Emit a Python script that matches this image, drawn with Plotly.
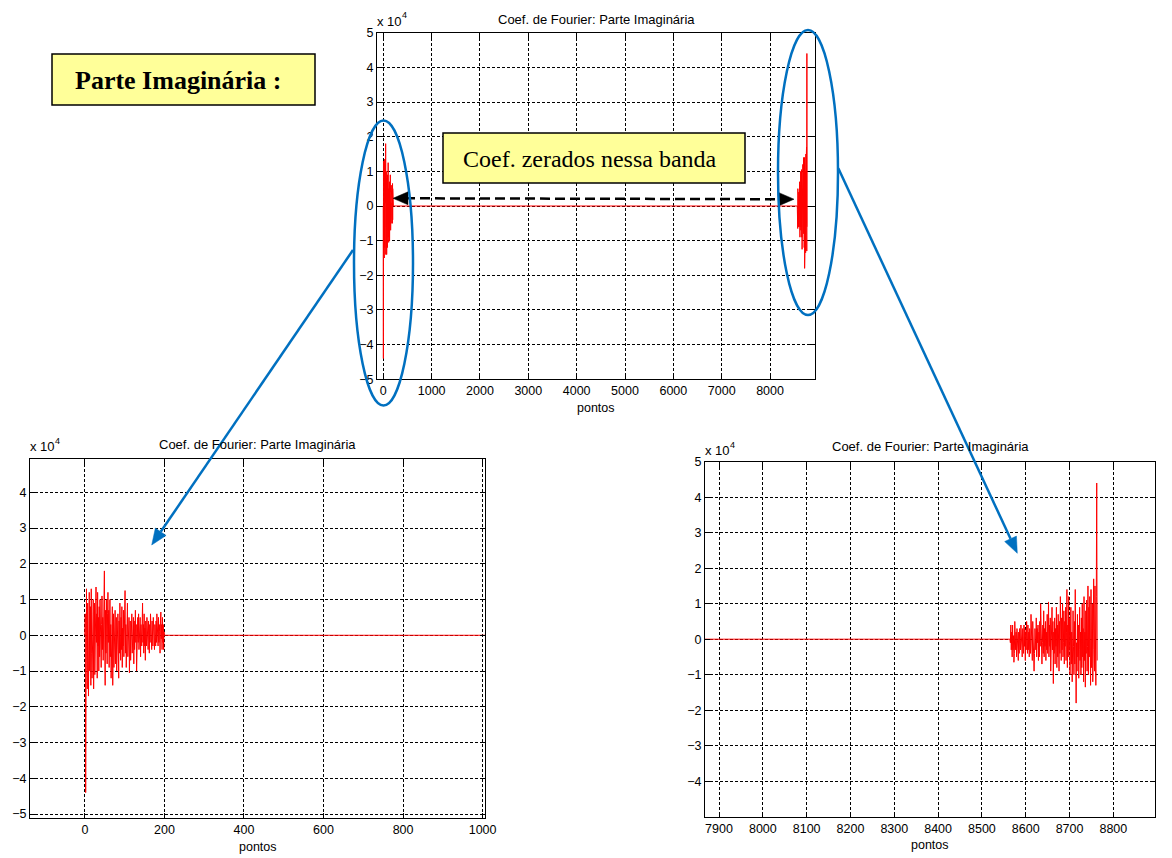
import plotly.graph_objects as go

# ---------------- data (imaginary part of Fourier coefficients, units of 1e4) ----------------
N_POINTS = 8764
# low-frequency band k = 0..200
imag_low = [
    0, 0.6, -4.4, -1.2, 1.3, -0.6, -1.5, 0.9, -0.4, -1.7,
    0.3, 1.2, -1.0, -0.3, 0.8, -1.4, 1.3, -0.5, -1.2, 0.5,
    -0.9, 1.0, -1.5, 0.2, 0.9, -1.1, 0.4, -0.8, 1.35, -0.2,
    0.6, -1.2, 1.2, -0.3, 0.5, -1.0, 0.8, -0.6, 1.0, -0.2,
    0.6, -0.9, 0.3, 1.1, -0.4, 0.5, -0.7, 0.9, 0.1, 1.8,
    -0.3, -1.4, 0.7, -0.5, 1.0, 0.2, -0.8, 0.6, 1.2, -0.2,
    0.7, -0.9, 0.4, 1.0, -0.6, 0.3, -1.2, 0.5, -0.4, 0.8,
    -1.4, -0.2, 0.6, -0.9, 0.2, -0.5, 0.7, -0.8, 0.1, 0.5,
    -1.0, 0.3, -0.6, 0.6, -0.3, -1.2, 0.4, -0.5, 0.9, 0.0,
    -0.7, 0.5, -0.4, 0.8, -0.9, 0.2, -0.3, 0.7, -0.6, 0.4,
    -0.2, 1.25, -0.5, 0.3, -0.9, 0.6, -0.1, 0.9, -0.6, 0.2,
    -0.4, 0.5, -1.05, 0.1, 0.4, -0.7, 0.3, -0.2, 0.6, -0.5,
    0.2, -0.3, 0.5, -0.8, 0.4, -0.4, 0.1, 0.7, -0.2, 0.3,
    -1.0, 0.2, -0.5, 0.5, -0.2, 0.6, -0.4, 0.1, -0.3, 0.5,
    -0.6, 0.3, 0.0, -0.3, 0.4, 0.9, -0.2, 0.3, -0.5, 0.6,
    -0.3, 0.2, -0.7, 0.4, 0.1, -0.3, 0.5, -0.2, 0.3, -0.4,
    0.4, 0.1, -0.5, 0.3, -0.2, 0.6, -0.3, 0.2, -0.4, 0.4,
    0.0, -0.3, 0.5, -0.2, 0.2, -0.4, 0.3, 0.1, -0.3, 0.4,
    -0.2, 0.6, -0.1, 0.2, -0.3, 0.5, -0.2, 0.3, 0.1, -0.5,
    0.4, 0.65, -0.1, 0.3, -0.4, 0.5, -0.2, 0.3, -0.4, 0.1,
    0.0,
]
# high band k = N-200..N-1 : Hermitian symmetry of the FFT of a real signal (Im X[N-k] = -Im X[k])
imag_high = [-v for v in reversed(imag_low[1:])]
# coefficients zeroed in the band between
imag_zeroed = [0.0] * (N_POINTS - len(imag_low) - len(imag_high))
imag_full = imag_low + imag_zeroed + imag_high
pontos = list(range(N_POINTS))

top_xticks = [0, 1000, 2000, 3000, 4000, 5000, 6000, 7000, 8000]
left_xticks = [0, 200, 400, 600, 800, 1000]
right_xticks = [7900, 8000, 8100, 8200, 8300, 8400, 8500, 8600, 8700, 8800]
top_yticks = [-5, -4, -3, -2, -1, 0, 1, 2, 3, 4, 5]
left_yticks = [-5, -4, -3, -2, -1, 0, 1, 2, 3, 4]
right_yticks = [-4, -3, -2, -1, 0, 1, 2, 3, 4, 5]

TITLE = "Coef. de Fourier: Parte Imaginária"
XLABEL = "pontos"

# ---------------- layout helpers ----------------
W, H = 1172, 858
def X(px):
    return px / W
def Y(py):
    return 1 - py / H

SANS = "Liberation Sans, Arial, Helvetica, sans-serif"
SERIF = "Liberation Serif, Times New Roman, serif"
BLUE = "#0070C0"

fig = go.Figure()
for ax in ["x", "x2", "x3"]:
    yax = ax.replace("x", "y")
    fig.add_trace(go.Scatter(x=pontos, y=imag_full, mode="lines",
                             line=dict(color="#FF0000", width=1),
                             xaxis=ax, yaxis=yax, showlegend=False,
                             hoverinfo="skip"))

def axis_common(**kw):
    d = dict(showline=True, linecolor="black", linewidth=1, mirror="allticks",
             ticks="inside", ticklen=5, tickcolor="black", tickwidth=1,
             showgrid=True, gridcolor="black", gridwidth=1, griddash="3px,2px",
             zeroline=False, tickfont=dict(family=SANS, size=12.5, color="black"),
             tickmode="array", fixedrange=True, automargin=False)
    d.update(kw)
    return d

# panel boxes in pixels: (left, right, top, bottom)
P_TOP = (377, 815, 32.7, 379.3)
P_LEFT = (30, 485, 459, 818)
P_RIGHT = (705, 1155, 461.7, 816.7)

fig.update_layout(
    width=W, height=H, autosize=False,
    margin=dict(l=0, r=0, t=0, b=0, pad=0),
    paper_bgcolor="white", plot_bgcolor="white",
    xaxis=axis_common(domain=[X(P_TOP[0]), X(P_TOP[1])], range=[-130, 8930],
                      tickvals=top_xticks, anchor="y"),
    yaxis=axis_common(domain=[Y(P_TOP[3]), Y(P_TOP[2])], range=[-5, 5],
                      tickvals=top_yticks, anchor="x"),
    xaxis2=axis_common(domain=[X(P_LEFT[0]), X(P_LEFT[1])], range=[-138, 1006],
                       tickvals=left_xticks, anchor="y2"),
    yaxis2=axis_common(domain=[Y(P_LEFT[3]), Y(P_LEFT[2])], range=[-5.11, 4.93],
                       tickvals=left_yticks, anchor="x2"),
    xaxis3=axis_common(domain=[X(P_RIGHT[0]), X(P_RIGHT[1])], range=[7868, 8895],
                       tickvals=right_xticks, anchor="y3"),
    yaxis3=axis_common(domain=[Y(P_RIGHT[3]), Y(P_RIGHT[2])], range=[-5, 5],
                       tickvals=right_yticks, anchor="x3"),
)

annotations = []
shapes = []

# titles, x labels, exponent labels
for (l, r, t, b), ty, lab_y, exp_y in [
    (P_TOP, 19.5, 407.5, 21),
    (P_LEFT, 444.7, 846.5, 447),
    (P_RIGHT, 446.7, 845, 450.5),
]:
    cx = (l + r) / 2
    annotations.append(dict(text=TITLE, x=X(cx), y=Y(ty), xref="paper", yref="paper",
                            xanchor="center", yanchor="middle", showarrow=False,
                            font=dict(family=SANS, size=13, color="black")))
    annotations.append(dict(text=XLABEL, x=X(cx), y=Y(lab_y), xref="paper", yref="paper",
                            xanchor="center", yanchor="middle", showarrow=False,
                            font=dict(family=SANS, size=12.5, color="black")))
    annotations.append(dict(text="x 10", x=X(l - 2), y=Y(exp_y), xref="paper",
                            yref="paper", xanchor="left", yanchor="middle", showarrow=False,
                            font=dict(family=SANS, size=13, color="black")))
    annotations.append(dict(text="4", x=X(l + 23), y=Y(exp_y - 6), xref="paper",
                            yref="paper", xanchor="left", yanchor="middle", showarrow=False,
                            font=dict(family=SANS, size=9, color="black")))

# yellow boxes
def ybox(x0, y0, x1, y1, text, bold, size, tx):
    shapes.append(dict(type="rect", xref="paper", yref="paper",
                       x0=X(x0), x1=X(x1), y0=Y(y1), y1=Y(y0),
                       fillcolor="#FFFF99", line=dict(color="black", width=1.5),
                       layer="above"))
    annotations.append(dict(text=(f"<b>{text}</b>" if bold else text),
                            x=X(tx), y=Y((y0 + y1) / 2 + 1), xref="paper",
                            yref="paper", xanchor="center", yanchor="middle",
                            showarrow=False,
                            font=dict(family=SERIF, size=size, color="black")))

ybox(52, 54, 315, 105, "Parte Imaginária :", True, 26, 178)
ybox(443, 133, 745, 183, "Coef. zerados nessa banda", False, 24, 590)

# arrowhead helper (pixel coordinates -> paper path)
def head(xs, ys, xt, yt, L, Wd, color):
    dx, dy = xt - xs, yt - ys
    n = (dx * dx + dy * dy) ** 0.5
    ux, uy = dx / n, dy / n
    bx, by = xt - L * ux, yt - L * uy
    px, py = -uy, ux
    p1 = (bx + Wd / 2 * px, by + Wd / 2 * py)
    p2 = (bx - Wd / 2 * px, by - Wd / 2 * py)
    path = (f"M {X(xt)},{Y(yt)} L {X(p1[0])},{Y(p1[1])} "
            f"L {X(p2[0])},{Y(p2[1])} Z")
    shapes.append(dict(type="path", xref="paper", yref="paper", path=path,
                       fillcolor=color, line=dict(color=color, width=0.5), layer="above"))
    return bx, by

# black dashed double arrow
shapes.append(dict(type="line", xref="paper", yref="paper",
                   x0=X(405), y0=Y(198.3), x1=X(781), y1=Y(199.2),
                   line=dict(color="black", width=2.5, dash="10px,5px"), layer="above"))
head(500, 198.3, 393, 198.3, 15, 13, "black")
head(700, 199.2, 794, 199.2, 15, 13, "black")

# blue ellipses
shapes.append(dict(type="circle", xref="paper", yref="paper",
                   x0=X(354), x1=X(413), y0=Y(405.5), y1=Y(120.5),
                   line=dict(color=BLUE, width=2.5), layer="above"))
shapes.append(dict(type="circle", xref="paper", yref="paper",
                   x0=X(778), x1=X(838), y0=Y(315), y1=Y(30),
                   line=dict(color=BLUE, width=2.5), layer="above"))

# blue arrows
for xs, ys, xt, yt in [(353, 250, 151.7, 545), (838.3, 168.3, 1017.3, 553.3)]:
    bx, by = head(xs, ys, xt, yt, 16, 13, BLUE)
    shapes.append(dict(type="line", xref="paper", yref="paper",
                       x0=X(xs), y0=Y(ys), x1=X(bx), y1=Y(by),
                       line=dict(color=BLUE, width=2.5), layer="above"))

fig.update_layout(annotations=annotations, shapes=shapes)
fig.write_html(
    "out.html",
    config={"displayModeBar": False},
    post_script="document.body.style.margin='0px';document.body.style.padding='0px';"
                "document.body.style.overflow='hidden';",
)
